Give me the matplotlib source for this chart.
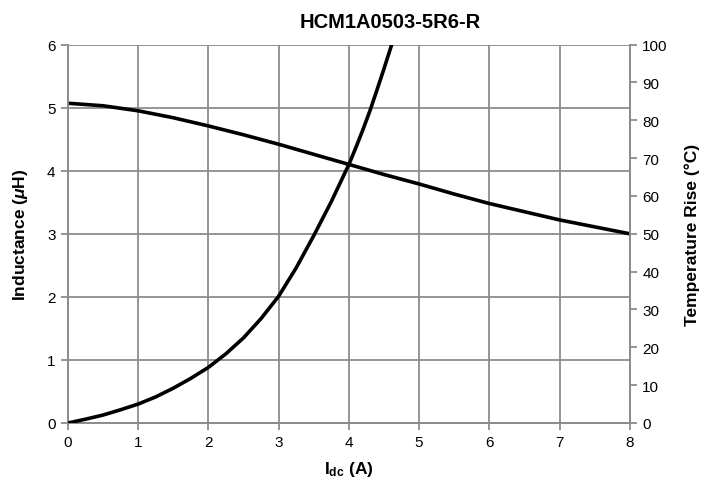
import matplotlib
matplotlib.use("Agg")
import matplotlib.pyplot as plt

plt.rcParams['font.family'] = ['Liberation Sans', 'DejaVu Sans']
plt.rcParams['mathtext.fontset'] = 'custom'
plt.rcParams['mathtext.rm'] = 'Liberation Sans:bold'
plt.rcParams['mathtext.it'] = 'Liberation Sans:italic:bold'
plt.rcParams['mathtext.bf'] = 'Liberation Sans:bold'

title = "HCM1A0503-5R6-R"

# Inductance curve
l_current = [0, 0.5, 1, 1.5, 2, 2.5, 3, 3.5, 4, 4.5, 5, 5.5, 6, 6.5, 7, 7.5, 8]
inductance = [5.07, 5.03, 4.95, 4.84, 4.71, 4.57, 4.42, 4.26, 4.10, 3.94,
              3.79, 3.63, 3.48, 3.35, 3.22, 3.11, 3.00]

# Temperature rise curve
t_current = [0, 0.25, 0.5, 0.75, 1, 1.25, 1.5, 1.75, 2, 2.25, 2.5, 2.75, 3,
             3.25, 3.5, 3.75, 4, 4.1, 4.2, 4.3, 4.4, 4.5, 4.61]
temp_rise = [0, 1.0, 2.1, 3.5, 5.0, 6.9, 9.2, 11.8, 14.7, 18.3, 22.5, 27.6,
             33.5, 41.0, 49.5, 58.5, 68.3, 72.8, 77.5, 82.5, 88.0, 93.6, 100.0]

x_ticks = [0, 1, 2, 3, 4, 5, 6, 7, 8]
left_ticks = [0, 1, 2, 3, 4, 5, 6]
right_ticks = [0, 10, 20, 30, 40, 50, 60, 70, 80, 90, 100]

grey = '#8c8c8c'

fig = plt.figure(figsize=(7.14, 4.85), dpi=100)
ax = fig.add_axes([0.0952, 0.1258, 0.7868, 0.7802])
ax2 = ax.twinx()

ax.plot(l_current, inductance, color='black', lw=2.6, solid_joinstyle='round', zorder=3)
ax2.plot(t_current, temp_rise, color='black', lw=2.6, solid_joinstyle='round', zorder=3)

ax.set_xlim(0, 8)
ax.set_ylim(0, 6)
ax2.set_ylim(0, 100)
ax.set_xticks(x_ticks)
ax.set_yticks(left_ticks)
ax2.set_yticks(right_ticks)

ax.grid(True, color=grey, lw=1.3, zorder=0)
ax.set_axisbelow(True)

for a in (ax, ax2):
    for s in a.spines.values():
        s.set_color(grey)
        s.set_linewidth(1.3)
    a.spines['top'].set_visible(False)
    a.tick_params(direction='out', color=grey, width=1.3, length=5,
                  labelsize=11, labelcolor='black', pad=4)

fig.text(390 / 714, 1 - 27.5 / 485, title, fontsize=14.5, fontweight='bold',
         ha='center', va='baseline')
ax.set_xlabel(r'I$_{\mathrm{dc}}$ (A)', fontsize=12.5, fontweight='bold', labelpad=7)
ax.set_ylabel(r'Inductance ($\mathit{\mu}$H)', fontsize=12.5, fontweight='bold', labelpad=12)
ax2.set_ylabel('Temperature Rise (°C)', fontsize=12.5, fontweight='bold', labelpad=12)

fig.savefig('out.png', dpi=100)
